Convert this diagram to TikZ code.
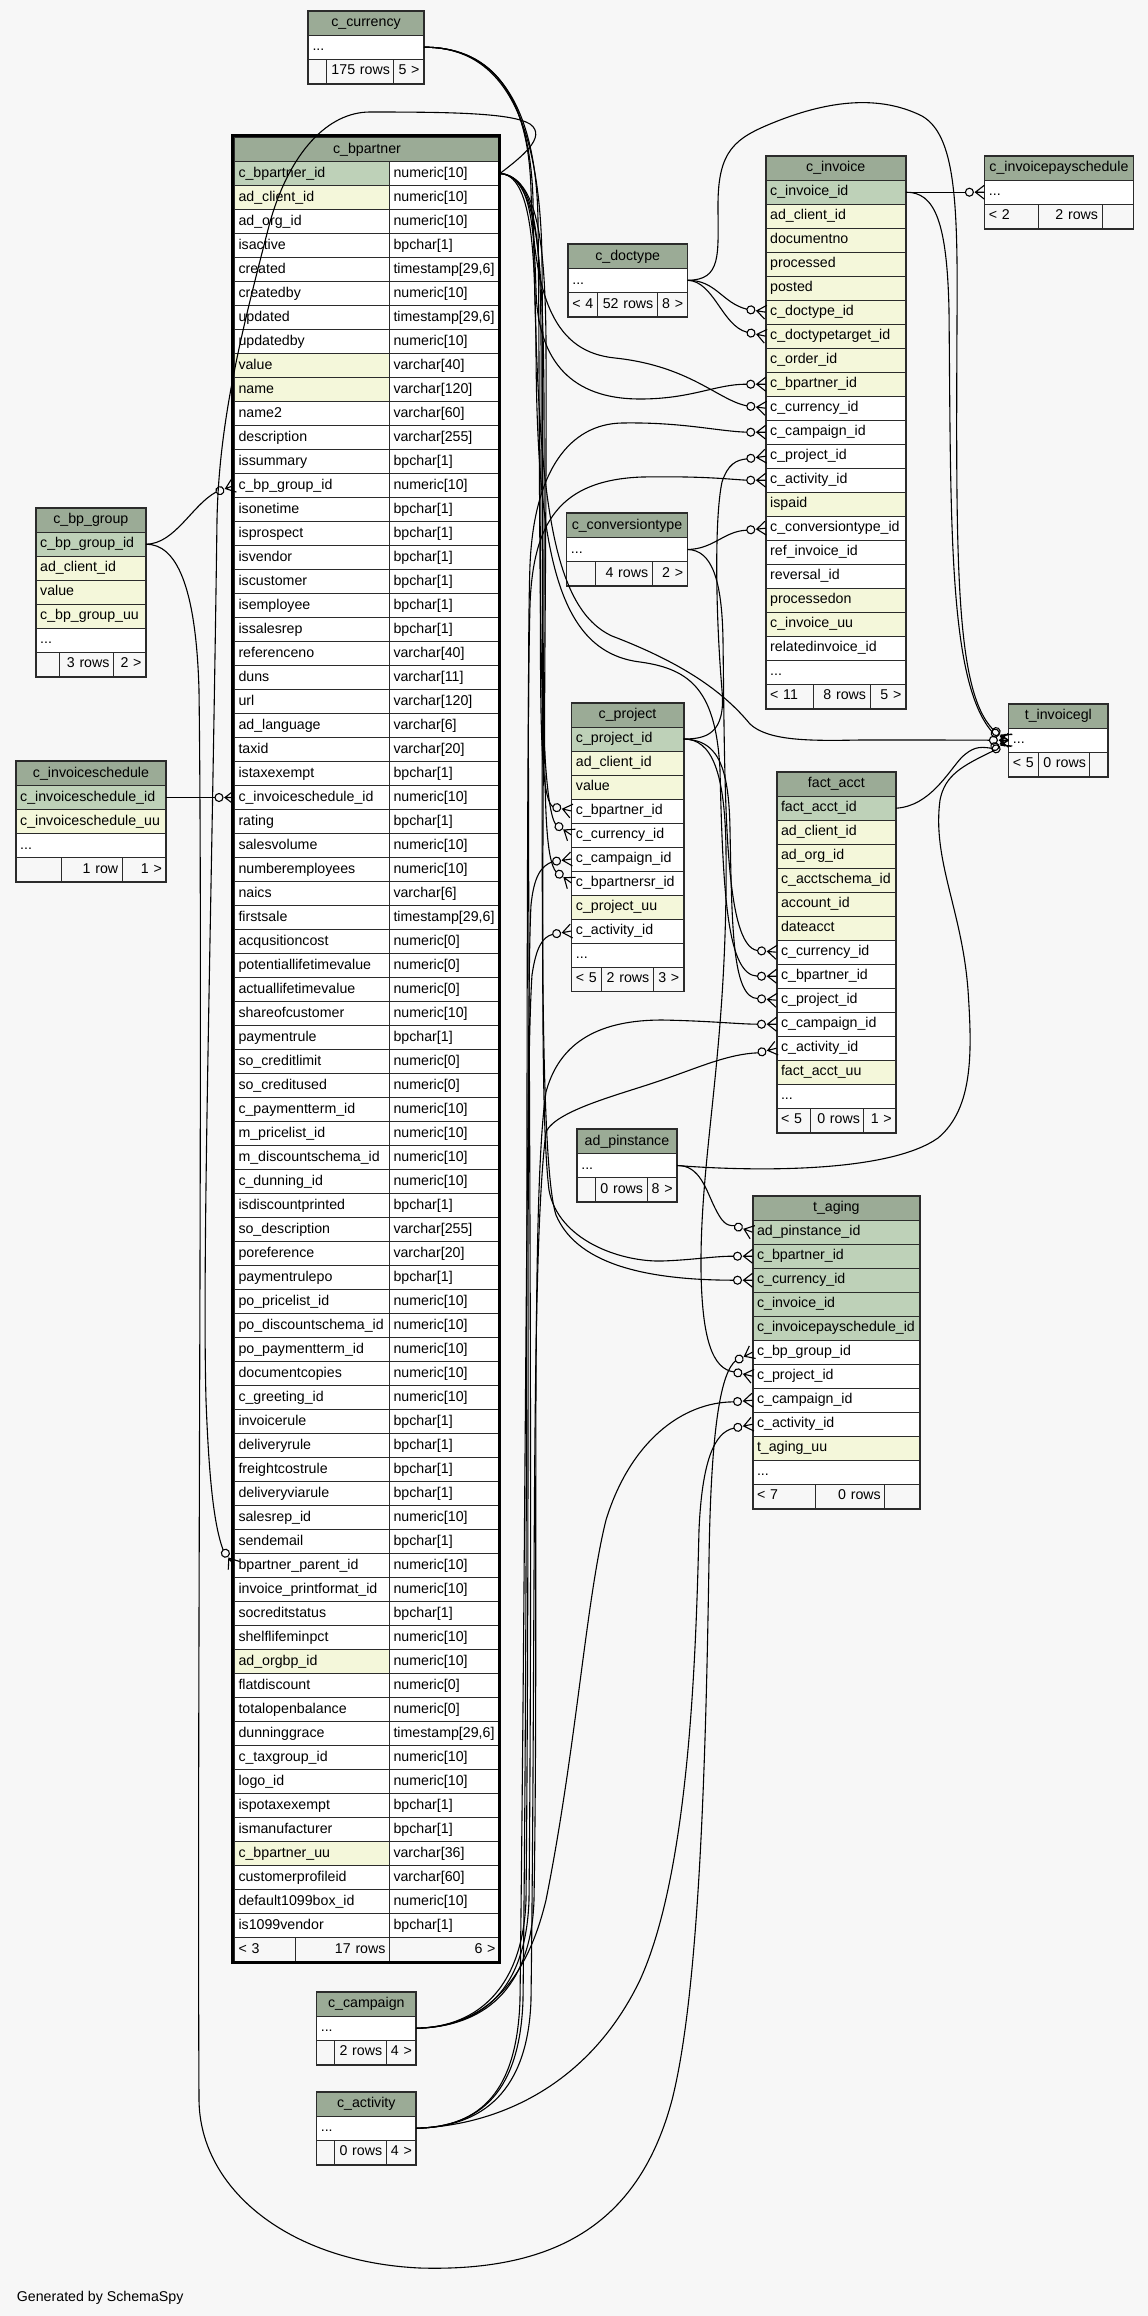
\documentclass[tikz,border=0pt]{standalone}
\usepackage{fontspec}
\setmainfont{Liberation Sans}
\usetikzlibrary{calc}
\definecolor{bgc}{HTML}{F7F7F7}
\definecolor{hdrc}{HTML}{9BAB96}
\definecolor{pkc}{HTML}{BED1B8}
\definecolor{idxc}{HTML}{F4F7DA}
\definecolor{linec}{HTML}{2B2B2B}
\newcommand\tdots{...}
\tikzset{
  tfont/.style={font=\fontsize{14.2pt}{16pt}\selectfont},
  cellbase/.style={tfont, draw=linec, line width=1pt, rectangle, inner xsep=4pt, inner ysep=0pt, minimum height=24pt, text height=10.5pt, text depth=3pt, anchor=north west},
  hdr/.style={cellbase, fill=hdrc, align=center},
  rowcell/.style={cellbase, align=left},
  footl/.style={cellbase, fill=bgc, align=left},
  footr/.style={cellbase, fill=bgc, align=right},
  outer/.style={draw=linec, line width=1.6pt},
  conn/.style={draw=black, line width=1.1pt},
}
% table: id, x, y, width, title, rows key/text/colour
\newcommand\mktable[6]{%
  \pgfmathsetmacro\tw{#4-8}%
  \node[hdr, text width=\tw pt] (#1) at (#2,#3) {#5};
  \foreach \k/\tx/\cc [count=\i] in {#6} {%
    \pgfmathsetmacro\yy{#3+24*\i}%
    \node[rowcell, fill=\cc, text width=\tw pt] (#1-\k) at (#2,\yy) {\tx};
  }%
}
% footer: id, x, y, w1, w2, w3, t1, t2, t3
\newcommand\mkfoot[9]{%
  \pgfmathsetmacro\wa{#4-8}\pgfmathsetmacro\wb{#5-8}\pgfmathsetmacro\wc{#6-8}%
  \pgfmathsetmacro\xb{#2+#4}\pgfmathsetmacro\xc{#2+#4+#5}%
  \node[footl, text width=\wa pt] (#1-f1) at (#2,#3) {#7};
  \node[footr, text width=\wb pt] (#1-f2) at (\xb,#3) {#8};
  \node[footr, text width=\wc pt] (#1-f3) at (\xc,#3) {#9};
  \draw[outer] (#1.north west) rectangle (#1-f3.south east);
}
\newcommand\crowft[2]{%
  \begin{scope}[shift={(#1)},rotate=#2]
    \draw[conn] (-15,0) circle (4pt);
    \draw[conn] (0,-7) -- (-9,0) -- (0,7) (-9,0) -- (0,0);
  \end{scope}}
\begin{document}
\begin{tikzpicture}[x=1pt,y=-1pt]
\fill[bgc] (0,0) rectangle (1148,2316);
\useasboundingbox (0,0) rectangle (1148,2316);

% ---------- c_currency
\mktable{cur}{308}{10.7}{115}{c\_currency}{dots/\tdots/white}
\mkfoot{cur}{308}{58.7}{17.7}{67.7}{29.6}{}{175 rows}{5 >}

% ---------- c_bpartner
\node[hdr, text width=257pt] (bp) at (234,137) {c\_bpartner};
\foreach \k/\nm/\ty/\cc [count=\i] in {
id/c\_bpartner\_id/numeric[10]/pkc,
client/ad\_client\_id/numeric[10]/idxc,
org/ad\_org\_id/numeric[10]/white,
isactive/isactive/bpchar[1]/white,
created/created/{timestamp[29,6]}/white,
createdby/createdby/numeric[10]/white,
updated/updated/{timestamp[29,6]}/white,
updatedby/updatedby/numeric[10]/white,
value/value/varchar[40]/idxc,
name/name/varchar[120]/idxc,
nametwo/name2/varchar[60]/white,
descr/description/varchar[255]/white,
issummary/issummary/bpchar[1]/white,
grp/c\_bp\_group\_id/numeric[10]/white,
isonetime/isonetime/bpchar[1]/white,
isprospect/isprospect/bpchar[1]/white,
isvendor/isvendor/bpchar[1]/white,
iscustomer/iscustomer/bpchar[1]/white,
isemployee/isemployee/bpchar[1]/white,
issalesrep/issalesrep/bpchar[1]/white,
refno/referenceno/varchar[40]/white,
duns/duns/varchar[11]/white,
url/url/varchar[120]/white,
lang/ad\_language/varchar[6]/white,
taxid/taxid/varchar[20]/white,
istaxexempt/istaxexempt/bpchar[1]/white,
isched/c\_invoiceschedule\_id/numeric[10]/white,
rating/rating/bpchar[1]/white,
salesvol/salesvolume/numeric[10]/white,
numemp/numberemployees/numeric[10]/white,
naics/naics/varchar[6]/white,
firstsale/firstsale/{timestamp[29,6]}/white,
acqcost/acqusitioncost/numeric[0]/white,
potval/potentiallifetimevalue/numeric[0]/white,
actval/actuallifetimevalue/numeric[0]/white,
share/shareofcustomer/numeric[10]/white,
payrule/paymentrule/bpchar[1]/white,
crlimit/so\_creditlimit/numeric[0]/white,
crused/so\_creditused/numeric[0]/white,
payterm/c\_paymentterm\_id/numeric[10]/white,
pricelist/m\_pricelist\_id/numeric[10]/white,
discsch/m\_discountschema\_id/numeric[10]/white,
dunning/c\_dunning\_id/numeric[10]/white,
isdiscprinted/isdiscountprinted/bpchar[1]/white,
sodesc/so\_description/varchar[255]/white,
poref/poreference/varchar[20]/white,
payrulepo/paymentrulepo/bpchar[1]/white,
popricelist/po\_pricelist\_id/numeric[10]/white,
podisc/po\_discountschema\_id/numeric[10]/white,
popayterm/po\_paymentterm\_id/numeric[10]/white,
doccopies/documentcopies/numeric[10]/white,
greeting/c\_greeting\_id/numeric[10]/white,
invrule/invoicerule/bpchar[1]/white,
delrule/deliveryrule/bpchar[1]/white,
freight/freightcostrule/bpchar[1]/white,
delvia/deliveryviarule/bpchar[1]/white,
salesrep/salesrep\_id/numeric[10]/white,
sendemail/sendemail/bpchar[1]/white,
parent/bpartner\_parent\_id/numeric[10]/white,
printfmt/invoice\_printformat\_id/numeric[10]/white,
crstatus/socreditstatus/bpchar[1]/white,
shelflife/shelflifeminpct/numeric[10]/white,
orgbp/ad\_orgbp\_id/numeric[10]/idxc,
flatdisc/flatdiscount/numeric[0]/white,
openbal/totalopenbalance/numeric[0]/white,
dungrace/dunninggrace/{timestamp[29,6]}/white,
taxgroup/c\_taxgroup\_id/numeric[10]/white,
logo/logo\_id/numeric[10]/white,
ispotax/ispotaxexempt/bpchar[1]/white,
ismanuf/ismanufacturer/bpchar[1]/white,
uu/c\_bpartner\_uu/varchar[36]/idxc,
custprof/customerprofileid/varchar[60]/white,
box1099/default1099box\_id/numeric[10]/white,
is1099/is1099vendor/bpchar[1]/white} {
  \pgfmathsetmacro\yy{137+24*\i}
  \node[rowcell, fill=\cc, text width=147pt] (bp-\k) at (234,\yy) {\nm};
  \node[rowcell, fill=white, text width=102pt] (bp-\k-t) at (389,\yy) {\ty};
}
\node[footl, text width=53pt] (bp-f1) at (234,1937) {< 3};
\node[footr, text width=86pt] (bp-f2) at (295,1937) {17 rows};
\node[footr, text width=102pt] (bp-f3) at (389,1937) {6 >};
\draw[draw=black, line width=3pt] (232.5,135.5) rectangle (499.5,1962.5);

% ---------- c_doctype
\mktable{dt}{567.8}{243.8}{118.8}{c\_doctype}{dots/\tdots/white}
\mkfoot{dt}{567.8}{291.8}{29.6}{59.4}{29.8}{< 4}{52 rows}{8 >}

% ---------- c_invoice
\mktable{inv}{765.7}{155.7}{139.2}{c\_invoice}{id/c\_invoice\_id/pkc, client/ad\_client\_id/idxc, docno/documentno/idxc, processed/processed/idxc, posted/posted/idxc, dt/c\_doctype\_id/idxc, dtt/c\_doctypetarget\_id/idxc, order/c\_order\_id/idxc, bp/c\_bpartner\_id/idxc, cur/c\_currency\_id/white, camp/c\_campaign\_id/white, proj/c\_project\_id/white, act/c\_activity\_id/white, ispaid/ispaid/idxc, conv/c\_conversiontype\_id/white, ref/ref\_invoice\_id/white, rev/reversal\_id/white, procon/processedon/idxc, uu/c\_invoice\_uu/idxc, rel/relatedinvoice\_id/white, dots/\tdots/white}
\mkfoot{inv}{765.7}{683.7}{46.9}{57}{35.3}{< 11}{8 rows}{5 >}

% ---------- c_invoicepayschedule
\mktable{ips}{984.4}{155.7}{148.1}{c\_invoicepayschedule}{dots/\tdots/white}
\mkfoot{ips}{984.4}{203.7}{53.1}{64}{31}{< 2}{2 rows}{}

% ---------- c_conversiontype
\mktable{ct}{566.4}{513}{120.2}{c\_conversiontype}{dots/\tdots/white}
\mkfoot{ct}{566.4}{561}{28.3}{57}{34.9}{}{4 rows}{2 >}

% ---------- c_project
\mktable{pj}{571.4}{702.5}{111.3}{c\_project}{id/c\_project\_id/pkc, client/ad\_client\_id/idxc, value/value/idxc, bp/c\_bpartner\_id/white, cur/c\_currency\_id/white, camp/c\_campaign\_id/white, bpsr/c\_bpartnersr\_id/white, uu/c\_project\_uu/idxc, act/c\_activity\_id/white, dots/\tdots/white}
\mkfoot{pj}{571.4}{966.5}{29.5}{51.9}{29.9}{< 5}{2 rows}{3 >}

% ---------- t_invoicegl
\mktable{gl}{1008.4}{703.7}{98.9}{t\_invoicegl}{dots/\tdots/white}
\mkfoot{gl}{1008.4}{751.7}{29.5}{51.5}{17.9}{< 5}{0 rows}{}

% ---------- fact_acct
\mktable{fa}{776.5}{771.7}{118.7}{fact\_acct}{id/fact\_acct\_id/pkc, client/ad\_client\_id/idxc, org/ad\_org\_id/idxc, schema/c\_acctschema\_id/idxc, account/account\_id/idxc, date/dateacct/idxc, cur/c\_currency\_id/white, bp/c\_bpartner\_id/white, proj/c\_project\_id/white, camp/c\_campaign\_id/white, act/c\_activity\_id/white, uu/fact\_acct\_uu/idxc, dots/\tdots/white}
\mkfoot{fa}{776.5}{1107.7}{33.4}{53.5}{31.8}{< 5}{0 rows}{1 >}

% ---------- ad_pinstance
\mktable{pi}{576.8}{1129}{99.3}{ad\_pinstance}{dots/\tdots/white}
\mkfoot{pi}{576.8}{1177}{17.9}{51.9}{29.5}{}{0 rows}{8 >}

% ---------- t_aging
\mktable{ag}{752.5}{1195.7}{166.7}{t\_aging}{pi/ad\_pinstance\_id/pkc, bp/c\_bpartner\_id/pkc, cur/c\_currency\_id/pkc, inv/c\_invoice\_id/pkc, ips/c\_invoicepayschedule\_id/pkc, grp/c\_bp\_group\_id/white, proj/c\_project\_id/white, camp/c\_campaign\_id/white, act/c\_activity\_id/white, uu/t\_aging\_uu/idxc, dots/\tdots/white}
\mkfoot{ag}{752.5}{1483.7}{62.8}{69}{34.9}{< 7}{0 rows}{}

% ---------- c_bp_group
\mktable{grp}{35.7}{507.7}{109.3}{c\_bp\_group}{id/c\_bp\_group\_id/pkc, client/ad\_client\_id/idxc, value/value/idxc, uu/c\_bp\_group\_uu/idxc, dots/\tdots/white}
\mkfoot{grp}{35.7}{651.7}{23}{54.3}{32}{}{3 rows}{2 >}

% ---------- c_invoiceschedule
\mktable{is}{15.7}{761}{149.6}{c\_invoiceschedule}{id/c\_invoiceschedule\_id/pkc, uu/c\_invoiceschedule\_uu/idxc, dots/\tdots/white}
\mkfoot{is}{15.7}{857}{45.3}{60.7}{43.6}{}{1 row}{1 >}

% ---------- c_campaign, c_activity
\mktable{camp}{316.3}{1991.7}{99}{c\_campaign}{dots/\tdots/white}
\mkfoot{camp}{316.3}{2039.7}{17.4}{52}{29.6}{}{2 rows}{4 >}
\mktable{act}{316.3}{2091.7}{99}{c\_activity}{dots/\tdots/white}
\mkfoot{act}{316.3}{2139.7}{17.4}{52}{29.6}{}{0 rows}{4 >}

\node[tfont, anchor=base west, inner sep=0pt] (gen) at (16.7,2301.7) {Generated by SchemaSpy};

% ================= connectors
% c_currency
\draw[conn] (cur-dots.east) .. controls (485,47) and (528,85) .. (531,190) .. controls (534,300) and (555,352) .. (615,358) .. controls (690,366) and (718,400) .. ($(inv-cur.west)+(173:19pt)$);
\draw[conn] (cur-dots.east) .. controls (490,47) and (536,95) .. (538,220) .. controls (541,500) and (536,795) .. ($(pj-cur.west)+(146:19pt)$);
\draw[conn] (cur-dots.east) .. controls (492,47) and (540,100) .. (542,260) .. controls (545,700) and (535,1150) .. (556,1215) .. controls (576,1262) and (640,1280) .. ($(ag-cur.west)+(180:19pt)$);
\draw[conn] (cur-dots.east) .. controls (486,47) and (530,88) .. (533,200) .. controls (537,470) and (545,605) .. (612,636) .. controls (680,662) and (722,690) .. (750,724) .. controls (768,741) and (810,741) .. (860,740) .. controls (920,740) and (960,740) .. ($(gl-dots.west)+(180:19pt)$);
% c_bpartner
\draw[conn] (bp-id-t.east) .. controls (530,175) and (534,222) .. (536,290) .. controls (538,372) and (582,399) .. (640,399) .. controls (692,399) and (716,384) .. ($(inv-bp.west)+(180:19pt)$);
\draw[conn] (bp-id-t.east) .. controls (534,176) and (540,230) .. (541,330) .. controls (542,640) and (535,795) .. ($(pj-bp.west)+(167:19pt)$);
\draw[conn] (bp-id-t.east) .. controls (537,177) and (545,240) .. (546,340) .. controls (547,700) and (538,850) .. ($(pj-bpsr.west)+(144:19pt)$);
\draw[conn] (bp-id-t.east) .. controls (532,175) and (535,250) .. (536,350) .. controls (537,560) and (560,652) .. (640,662) .. controls (692,669) and (716,692) .. (720,770) .. controls (723,900) and (728,975) .. ($(fa-bp.west)+(180:19pt)$);
\draw[conn] (bp-id-t.east) .. controls (538,176) and (543,260) .. (544,400) .. controls (545,800) and (538,1100) .. (549,1190) .. controls (558,1240) and (620,1262) .. (662,1261) .. controls (692,1260) and (716,1256) .. ($(ag-bp.west)+(180:19pt)$);
\draw[conn] (bp-id-t.east) .. controls (520,158) and (548,137) .. (530,124) .. controls (512,113) and (452,112) .. (370,112) .. controls (328,112) and (290,152) .. (270,222) .. controls (242,330) and (219,420) .. (217,520) .. controls (212,900) and (202,1250) .. (206,1400) .. controls (209,1480) and (214,1525) .. ($(bp-parent.west)+(125:19pt)$);
% c_bp_group
\draw[conn] (grp-id.east) .. controls (175,544) and (192,505) .. ($(bp-grp.west)+(200:19pt)$);
\draw[conn] (grp-id.east) .. controls (176,544) and (196,585) .. (199,690) .. controls (203,1000) and (197,1700) .. (199,2100) .. controls (200,2190) and (290,2262) .. (420,2268) .. controls (560,2272) and (640,2220) .. (672,2100) .. controls (700,1990) and (706,1750) .. (709,1560) .. controls (711,1420) and (722,1372) .. ($(ag-grp.west)+(207:19pt)$);
% c_invoiceschedule
\draw[conn] (is-id.east) -- ($(bp-isched.west)+(180:19pt)$);
% c_doctype
\draw[conn] (dt-dots.east) .. controls (716,280) and (722,303) .. ($(inv-dt.west)+(171:19pt)$);
\draw[conn] (dt-dots.east) .. controls (714,281) and (722,326) .. ($(inv-dtt.west)+(168:19pt)$);
\draw[conn] (dt-dots.east) .. controls (722,280) and (718,255) .. (718,205) .. controls (718,150) and (735,138) .. (775,122) .. controls (830,100) and (880,95) .. (922,116) .. controls (955,135) and (958,200) .. (957,320) .. controls (956,560) and (955,690) .. ($(gl-dots.west)+(145:19pt)$);
% c_invoice
\draw[conn] (inv-id.east) -- ($(ips-dots.west)+(180:19pt)$);
\draw[conn] (inv-id.east) .. controls (935,192) and (947,222) .. (949,310) .. controls (951,520) and (948,680) .. ($(gl-dots.west)+(152:19pt)$);
% c_conversiontype
\draw[conn] (ct-dots.east) .. controls (714,549) and (724,531) .. ($(inv-conv.west)+(186:19pt)$);
\draw[conn] (ct-dots.east) .. controls (712,550) and (722,580) .. (723,640) .. controls (725,800) and (724,946) .. ($(fa-cur.west)+(175:19pt)$);
% c_project
\draw[conn] (pj-id.east) .. controls (706,739) and (726,734) .. (722,690) .. controls (716,620) and (714,520) .. (722,482) .. controls (728,464) and (736,460) .. ($(inv-proj.west)+(188:19pt)$);
\draw[conn] (pj-id.east) .. controls (716,740) and (729,762) .. (730,830) .. controls (732,925) and (732,998) .. ($(fa-proj.west)+(175:19pt)$);
\draw[conn] (pj-id.east) .. controls (712,739) and (725,772) .. (726,850) .. controls (728,1050) and (700,1150) .. (701,1270) .. controls (702,1338) and (712,1369) .. ($(ag-proj.west)+(167:19pt)$);
% fact_acct
\draw[conn] (fa-id.east) .. controls (930,806) and (948,772) .. (962,757) .. controls (972,748) and (978,746) .. ($(gl-dots.west)+(205:19pt)$);
% ad_pinstance
\draw[conn] (pi-dots.east) .. controls (700,1165) and (706,1190) .. (715,1208) .. controls (722,1222) and (726,1226) .. ($(ag-pi.west)+(160:19pt)$);
\draw[conn] (pi-dots.east) .. controls (760,1172) and (890,1172) .. (938,1138) .. controls (974,1108) and (972,1050) .. (968,990) .. controls (962,910) and (932,860) .. (940,800) .. controls (945,775) and (962,766) .. ($(gl-dots.west)+(215:19pt)$);
% c_campaign
\draw[conn] (camp-dots.east) .. controls (482,2027) and (526,1990) .. (529,1900) .. controls (534,1400) and (525,700) .. (530,565) .. controls (534,470) and (570,424) .. (622,423) .. controls (682,422) and (716,431) .. ($(inv-camp.west)+(180:19pt)$);
\draw[conn] (camp-dots.east) .. controls (480,2027) and (523,1985) .. (526,1900) .. controls (530,1500) and (526,1000) .. (531,905) .. controls (534,876) and (541,866) .. ($(pj-camp.west)+(188:19pt)$);
\draw[conn] (camp-dots.east) .. controls (483,2027) and (531,1990) .. (534,1900) .. controls (539,1600) and (530,1200) .. (546,1092) .. controls (560,1040) and (602,1020) .. (662,1020) .. controls (712,1021) and (736,1024) .. ($(fa-camp.west)+(180:19pt)$);
\draw[conn] (camp-dots.east) .. controls (470,2027) and (522,2000) .. (546,1900) .. controls (576,1750) and (586,1600) .. (606,1520) .. controls (630,1442) and (682,1402) .. ($(ag-camp.west)+(185:19pt)$);
% c_activity
\draw[conn] (act-dots.east) .. controls (482,2127) and (520,2090) .. (523,2000) .. controls (529,1500) and (525,800) .. (530,605) .. controls (533,522) and (560,480) .. (642,477) .. controls (702,476) and (726,479) .. ($(inv-act.west)+(180:19pt)$);
\draw[conn] (act-dots.east) .. controls (482,2127) and (517,2090) .. (520,2000) .. controls (526,1500) and (526,1060) .. (532,975) .. controls (536,948) and (542,937) .. ($(pj-act.west)+(190:19pt)$);
\draw[conn] (act-dots.east) .. controls (484,2127) and (528,2090) .. (531,2000) .. controls (536,1600) and (531,1250) .. (546,1132) .. controls (556,1110) and (622,1094) .. (662,1080) .. controls (700,1067) and (728,1054) .. ($(fa-act.west)+(194:19pt)$);
\draw[conn] (act-dots.east) .. controls (505,2125) and (592,2080) .. (640,1980) .. controls (690,1870) and (696,1650) .. (699,1530) .. controls (702,1462) and (714,1432) .. ($(ag-act.west)+(192:19pt)$);

% ================= crow's feet
\crowft{inv-dt.west}{-9}
\crowft{inv-dtt.west}{-12}
\crowft{inv-bp.west}{0}
\crowft{inv-cur.west}{-7}
\crowft{inv-camp.west}{0}
\crowft{inv-proj.west}{8}
\crowft{inv-act.west}{0}
\crowft{inv-conv.west}{6}
\crowft{ips-dots.west}{0}
\crowft{pj-bp.west}{-13}
\crowft{pj-cur.west}{-34}
\crowft{pj-camp.west}{8}
\crowft{pj-bpsr.west}{-36}
\crowft{pj-act.west}{10}
\crowft{fa-cur.west}{-5}
\crowft{fa-bp.west}{0}
\crowft{fa-proj.west}{-5}
\crowft{fa-camp.west}{0}
\crowft{fa-act.west}{14}
\crowft{ag-pi.west}{-20}
\crowft{ag-bp.west}{0}
\crowft{ag-cur.west}{0}
\crowft{ag-grp.west}{27}
\crowft{ag-proj.west}{-13}
\crowft{ag-camp.west}{5}
\crowft{ag-act.west}{12}
\crowft{gl-dots.west}{-35}
\crowft{gl-dots.west}{-28}
\crowft{gl-dots.west}{0}
\crowft{gl-dots.west}{25}
\crowft{gl-dots.west}{35}
\crowft{bp-grp.west}{20}
\crowft{bp-isched.west}{0}
\crowft{bp-parent.west}{-55}
\end{tikzpicture}
\end{document}
